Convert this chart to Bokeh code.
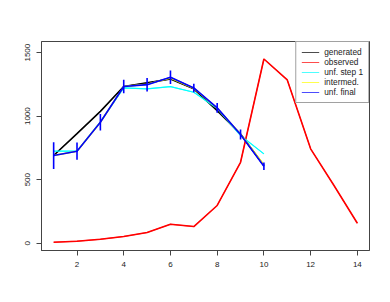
from bokeh.plotting import figure
from bokeh.models import FixedTicker, Legend, LegendItem, Range1d
from bokeh.embed import file_html
from bokeh.resources import INLINE

x_gen = [1, 2, 3, 4, 5, 6, 7, 8, 9, 10]
x_obs = [1, 2, 3, 4, 5, 6, 7, 8, 9, 10, 11, 12, 13, 14]
generated = [690, 863, 1038, 1233, 1262, 1293, 1215, 1044, 860, 611]
observed = [8, 16, 31, 53, 84, 149, 131, 297, 637, 1450, 1285, 743, 454, 157]
unf_step1 = [724, 724, 955, 1222, 1215, 1233, 1188, 1060, 847, 703]
intermed = [690, 724, 952, 1233, 1252, 1300, 1220, 1062, 857, 615]
unf_final = [690, 724, 952, 1233, 1248, 1306, 1222, 1065, 855, 606]
unf_err = [105, 68, 65, 53, 53, 53, 34, 39, 39, 30]

x_ticks = [2, 4, 6, 8, 10, 12, 14]
y_ticks = [0, 500, 1000, 1500]
labels = ["generated", "observed", "unf. step 1", "intermed.", "unf. final"]
colors = ["black", "#FF0000", "#00FFFF", "#FFFF00", "#0000FF"]

FONT = "Liberation Sans"

p = figure(width=374, height=286, output_backend="svg", toolbar_location=None,
           x_range=Range1d(0.48, 14.52), y_range=Range1d(-57.4, 1587.6),
           min_border_left=41, min_border_right=5, min_border_top=41, min_border_bottom=36)
p.grid.visible = False
p.background_fill_color = "white"
p.border_fill_color = "white"
p.outline_line_color = "#444444"
p.outline_line_width = 1

for ax in (p.xaxis[0], p.yaxis[0]):
    ax.axis_line_color = "#444444"
    ax.major_tick_line_color = "#444444"
    ax.minor_tick_line_color = None
    ax.major_tick_in = 0
    ax.major_tick_out = 5
    ax.major_label_text_font = FONT
    ax.major_label_text_font_size = "8px"
    ax.major_label_text_color = "#222222"
    ax.major_label_standoff = 6
p.xaxis[0].ticker = FixedTicker(ticks=x_ticks)
p.yaxis[0].ticker = FixedTicker(ticks=y_ticks)
p.yaxis[0].major_label_orientation = "vertical"

series = [(x_gen, generated), (x_obs, observed), (x_gen, unf_step1), (x_gen, intermed), (x_gen, unf_final)]
widths = [1.6, 1.6, 1.2, 1.5, 1.6]

# thin lines (used for the legend), covered by the thicker ones drawn afterwards
items = []
for (xs, ys), lab, col in zip(series, labels, colors):
    r = p.line(xs, ys, line_color=col, line_width=1, line_alpha=0.7)
    items.append(LegendItem(label=lab, renderers=[r]))

for (xs, ys), col, w in zip(series, colors, widths):
    p.line(xs, ys, line_color=col, line_width=w)

lo = [v - e for v, e in zip(unf_final, unf_err)]
hi = [v + e for v, e in zip(unf_final, unf_err)]
p.segment(x0=x_gen, y0=lo, x1=x_gen, y1=hi, line_color=colors[4], line_width=1.6)

legend = Legend(items=items, location="top_right", margin=0, padding=5, spacing=0,
                glyph_width=18, glyph_height=10, label_height=10, label_standoff=5,
                label_text_font=FONT, label_text_font_size="8.3px", label_text_color="#222222",
                border_line_color="#444444", border_line_width=1,
                background_fill_color="white", background_fill_alpha=1.0)
p.add_layout(legend)

open("out.html", "w").write(file_html(p, INLINE))
